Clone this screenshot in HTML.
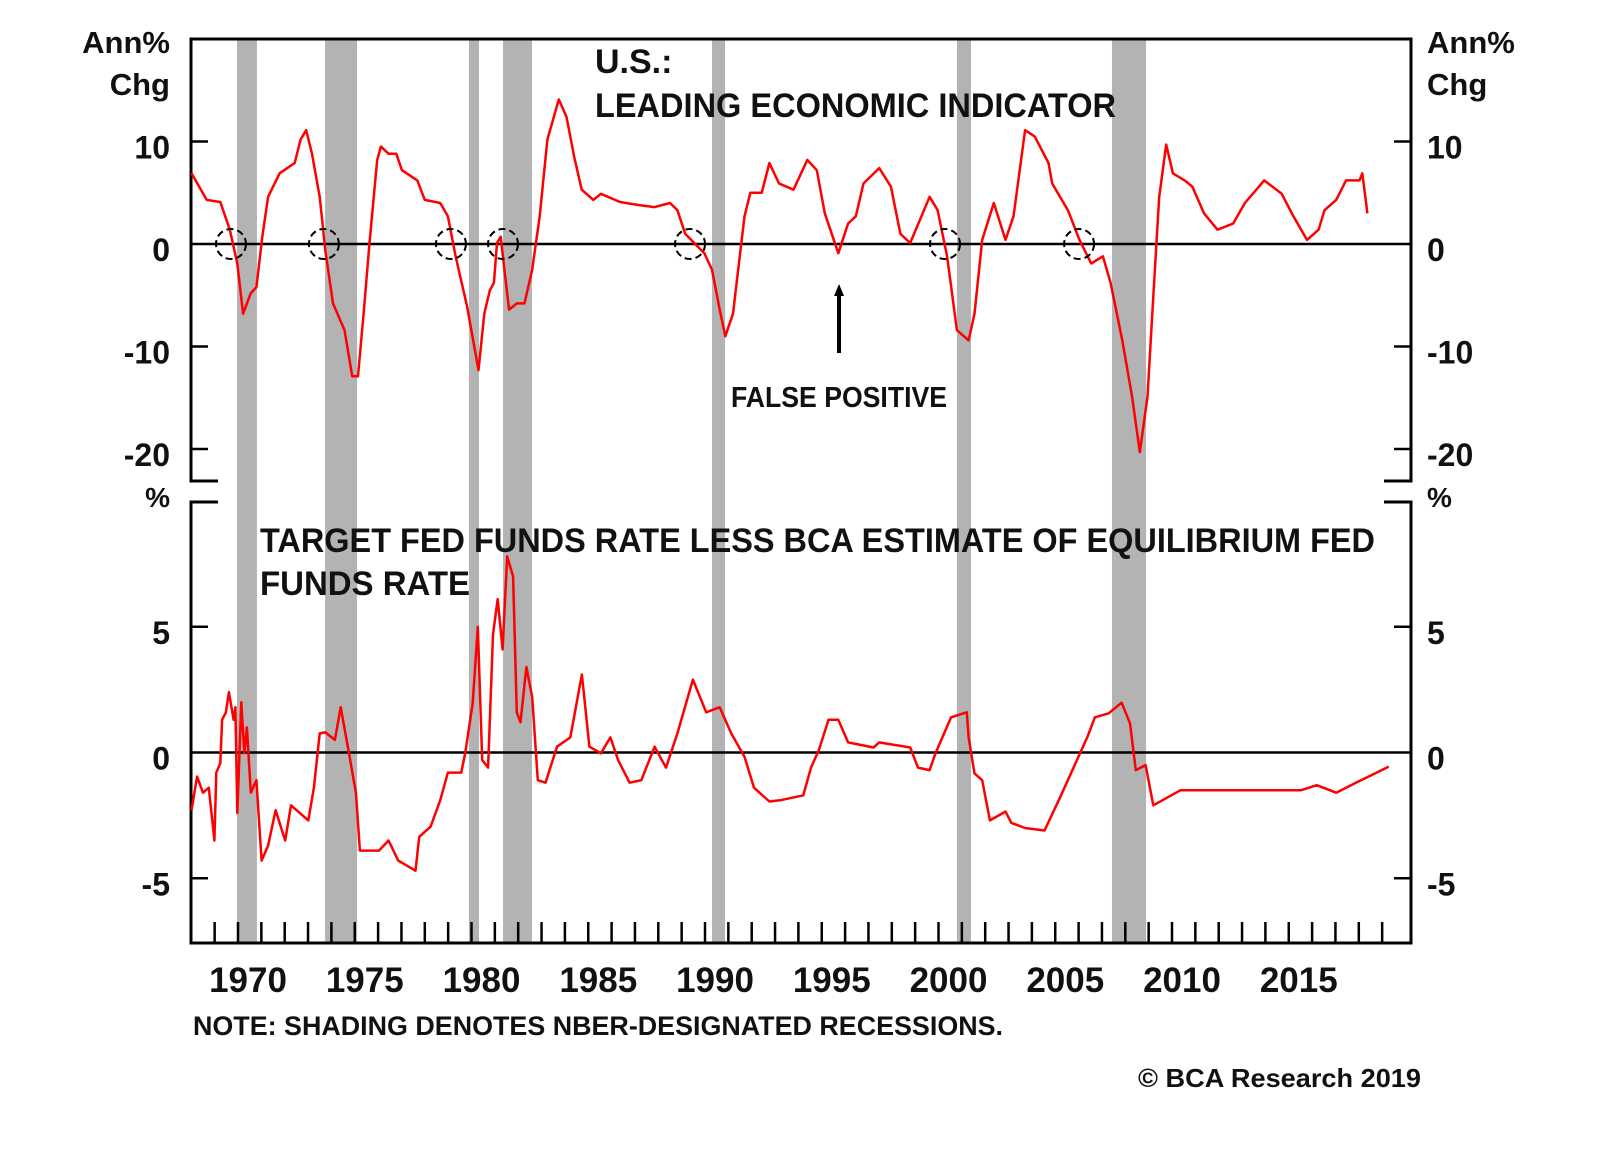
<!DOCTYPE html>
<html><head><meta charset="utf-8"><title>BCA chart</title>
<style>
html,body{margin:0;padding:0;background:#fff;}
svg{display:block;font-family:"Liberation Sans",Arial,sans-serif;font-weight:bold;}
</style></head>
<body>
<svg id="chart" width="1600" height="1152" viewBox="0 0 1600 1152" xmlns="http://www.w3.org/2000/svg">
<rect x="0" y="0" width="1600" height="1152" fill="#fff"/>
<g id="shades"></g>
<g id="axes"></g>
<g id="series"></g>
<g id="labels"></g>

<text x="170" y="53" font-size="31" text-anchor="end" fill="#111">Ann%</text>
<text x="170" y="95" font-size="31" text-anchor="end" fill="#111">Chg</text>
<text x="1427" y="53" font-size="31" fill="#111">Ann%</text>
<text x="1427" y="95" font-size="31" fill="#111">Chg</text>
<text x="170" y="507" font-size="28" text-anchor="end" fill="#111">%</text>
<text x="1427" y="507" font-size="28" fill="#111">%</text>

<text x="595" y="73" font-size="34" fill="#111">U.S.:</text>
<text x="595" y="117" font-size="34" fill="#111" textLength="521" lengthAdjust="spacingAndGlyphs">LEADING ECONOMIC INDICATOR</text>
<text x="260" y="552" font-size="34" fill="#111" textLength="1115" lengthAdjust="spacingAndGlyphs">TARGET FED FUNDS RATE LESS BCA ESTIMATE OF EQUILIBRIUM FED</text>
<text x="260" y="595" font-size="34" fill="#111" textLength="210" lengthAdjust="spacingAndGlyphs">FUNDS RATE</text>
<text x="731" y="407" font-size="29" fill="#111" textLength="216" lengthAdjust="spacingAndGlyphs">FALSE POSITIVE</text>
<text x="193" y="1035" font-size="27" fill="#111" textLength="810" lengthAdjust="spacingAndGlyphs">NOTE: SHADING DENOTES NBER-DESIGNATED RECESSIONS.</text>
<text x="1138" y="1087" font-size="26" fill="#111" textLength="283" lengthAdjust="spacingAndGlyphs">© BCA Research 2019</text>

<script>
const recessionStarts = [1969.96, 1973.73, 1979.89, 1981.35, 1990.30, 2000.79, 2007.43];
const recessionEnds   = [1970.81, 1975.10, 1980.32, 1982.59, 1990.86, 2001.39, 2008.89];
const topTicks = [10, 0, -10, -20];
const topTickLabels = ["10", "0", "-10", "-20"];
const bottomTicks = [5, 0, -5];
const bottomTickLabels = ["5", "0", "-5"];
const yearLabels = [1970, 1975, 1980, 1985, 1990, 1995, 2000, 2005, 2010, 2015];
const signalYears = [1969.7, 1973.68, 1979.12, 1981.35, 1989.36, 2000.28, 2006.02];
const falsePositiveYear = 1995.74;

const leiYears = [1968.01,1968.66,1969.24,1969.65,1969.97,1970.22,1970.55,1970.79,1971.04,1971.29,1971.78,1972.43,1972.68,1972.92,1973.17,1973.5,1973.74,1974.07,1974.56,1974.89,1975.14,1975.38,1975.63,1975.96,1976.12,1976.45,1976.78,1977.02,1977.68,1978.0,1978.66,1978.99,1979.32,1979.81,1980.3,1980.55,1980.79,1980.96,1981.09,1981.25,1981.41,1981.61,1981.94,1982.27,1982.6,1982.92,1983.25,1983.74,1984.07,1984.4,1984.72,1985.22,1985.54,1986.36,1987.18,1987.84,1988.5,1988.82,1989.15,1989.97,1990.3,1990.63,1990.87,1991.2,1991.45,1991.69,1991.94,1992.43,1992.76,1993.17,1993.79,1994.38,1994.79,1995.13,1995.71,1996.13,1996.46,1996.79,1997.46,1997.96,1998.37,1998.79,1999.62,1999.96,2000.37,2000.79,2001.29,2001.54,2001.87,2002.37,2002.87,2003.21,2003.71,2004.12,2004.71,2004.87,2005.54,2006.04,2006.54,2007.04,2007.37,2007.87,2008.29,2008.62,2008.95,2009.2,2009.45,2009.75,2010.04,2010.54,2010.87,2011.37,2011.95,2012.62,2013.12,2013.95,2014.7,2015.2,2015.78,2016.28,2016.53,2017.03,2017.45,2018.03,2018.15,2018.37];
const leiValues = [6.9,4.3,4.1,1.4,-1.9,-6.8,-4.8,-4.2,0.7,4.6,6.9,7.9,10.2,11.1,8.8,4.6,-0.6,-5.8,-8.4,-12.9,-12.9,-6.8,0.1,8.2,9.5,8.8,8.8,7.2,6.2,4.3,4.0,2.7,-1.2,-6.1,-12.3,-6.8,-4.5,-3.8,0.1,0.7,-2.5,-6.4,-5.8,-5.8,-2.5,2.7,10.2,14.1,12.4,8.5,5.3,4.3,4.9,4.1,3.8,3.6,4.0,3.3,1.0,-0.9,-2.5,-6.4,-9.0,-6.8,-1.9,2.7,5.0,5.0,7.9,5.9,5.3,8.2,7.2,3.0,-0.9,2.0,2.7,5.9,7.4,5.6,1.0,0.1,4.6,3.3,-1.2,-8.4,-9.4,-6.8,0.4,4.0,0.4,2.7,11.1,10.5,7.9,5.9,3.3,0.4,-1.9,-1.2,-3.8,-9.4,-14.9,-20.3,-14.9,-5.1,4.6,9.7,6.9,6.2,5.6,3.0,1.4,2.0,4.0,6.2,4.9,2.7,0.4,1.4,3.3,4.3,6.2,6.2,6.9,3.0];

const ffYears = [1968.01,1968.25,1968.5,1968.75,1968.99,1969.07,1969.24,1969.32,1969.48,1969.61,1969.81,1969.89,1969.97,1970.14,1970.27,1970.38,1970.55,1970.79,1971.01,1971.29,1971.61,1972.02,1972.27,1973.01,1973.25,1973.5,1973.74,1974.15,1974.4,1974.73,1975.05,1975.22,1976.04,1976.45,1976.86,1977.6,1977.76,1978.25,1978.66,1978.99,1979.56,1979.73,1980.05,1980.27,1980.46,1980.71,1980.92,1981.12,1981.33,1981.53,1981.78,1981.94,1982.1,1982.35,1982.6,1982.84,1983.17,1983.66,1984.23,1984.73,1985.05,1985.54,1985.95,1986.28,1986.77,1987.27,1987.84,1988.33,1988.82,1989.48,1990.05,1990.63,1991.12,1991.69,1992.1,1992.76,1993.21,1994.21,1994.54,1994.88,1995.29,1995.71,1996.13,1997.21,1997.46,1998.79,1999.12,1999.62,1999.87,2000.54,2001.21,2001.29,2001.54,2001.87,2002.2,2002.87,2003.12,2003.71,2004.54,2005.2,2006.37,2006.7,2007.29,2007.84,2008.2,2008.45,2008.87,2009.2,2010.37,2013.7,2015.53,2016.2,2017.03,2017.87,2018.7,2019.28];
const ffValues = [-2.3,-0.96,-1.6,-1.4,-3.5,-0.8,-0.43,1.3,1.6,2.4,1.3,1.8,-2.4,2.0,-0.03,1.0,-1.6,-1.1,-4.3,-3.7,-2.3,-3.5,-2.1,-2.7,-1.4,0.76,0.8,0.5,1.8,0.1,-1.6,-3.9,-3.9,-3.5,-4.3,-4.7,-3.35,-2.95,-1.9,-0.8,-0.8,-0.03,1.96,5.0,-0.3,-0.6,4.7,6.1,4.1,7.8,7.0,1.6,1.2,3.4,2.2,-1.1,-1.2,0.23,0.6,3.1,0.23,-0.03,0.6,-0.3,-1.2,-1.1,0.23,-0.6,0.76,2.9,1.6,1.8,0.76,-0.17,-1.4,-1.95,-1.9,-1.7,-0.6,0.1,1.3,1.3,0.4,0.2,0.4,0.2,-0.6,-0.7,-0.03,1.4,1.6,0.6,-0.83,-1.1,-2.7,-2.35,-2.8,-3.0,-3.1,-1.8,0.6,1.4,1.56,1.98,1.16,-0.7,-0.5,-2.1,-1.5,-1.5,-1.5,-1.3,-1.6,-1.2,-0.83,-0.56];

const NS = "http://www.w3.org/2000/svg";
const X0 = 238, PXY = 23.35;
function xS(yr){ return X0 + (yr - 1970) * PXY; }
function yTop(v){ return 244 - v * 10.25; }
function yBot(v){ return 752.5 - v * 25.15; }
const L = 191, R = 1411, TOP = 39, TOPB = 481, BOTT = 502, BOT = 943;
const RLX = 1427;

function mk(tag, attrs, parent){
  const el = document.createElementNS(NS, tag);
  for (const k in attrs) el.setAttribute(k, attrs[k]);
  parent.appendChild(el);
  return el;
}
const gS = document.getElementById('shades');
const gA = document.getElementById('axes');
const gD = document.getElementById('series');
const gL = document.getElementById('labels');

for (let i = 0; i < recessionStarts.length; i++) {
  const r = mk('rect', {x: xS(recessionStarts[i]), y: TOP, width: xS(recessionEnds[i]) - xS(recessionStarts[i]), height: BOT - TOP, fill: '#b3b3b3'}, gS);
  
  
}

const stroke = {stroke: '#000', 'stroke-width': 3, fill: 'none'};
let p = mk('path', Object.assign({d: `M${L+27},${TOPB} H${L} V${TOP} H${R} V${TOPB} H${R-27}`}, stroke), gA);


p = mk('path', Object.assign({d: `M${L+27},${BOTT} H${L} V${BOT} H${R} V${BOTT} H${R-27}`}, stroke), gA);



let z = mk('line', {x1: L, x2: R, y1: yTop(0), y2: yTop(0), stroke: '#000', 'stroke-width': 2.5}, gA);


z = mk('line', {x1: L, x2: R, y1: yBot(0), y2: yBot(0), stroke: '#000', 'stroke-width': 2.5}, gA);



function yTicks(vals, labs, fy, prefix){
  for (let i = 0; i < vals.length; i++) {
    const y = fy(vals[i]);
    if (vals[i] !== 0) {
      const t1 = mk('line', {x1: L, x2: L + 17, y1: y, y2: y, stroke: '#000', 'stroke-width': 2.5}, gA);
      
      
      const t2 = mk('line', {x1: R - 17, x2: R, y1: y, y2: y, stroke: '#000', 'stroke-width': 2.5}, gA);
      
      
    }
    const a = mk('text', {x: 170, y: y + 17, 'font-size': 32, 'text-anchor': 'end', fill: '#111'}, gL);
    a.textContent = labs[i];
    
    
    const b = mk('text', {x: RLX, y: y + 17, 'font-size': 32, fill: '#111'}, gL);
    b.textContent = labs[i];
    
    
  }
}
yTicks(topTicks, topTickLabels, yTop, 'top-y');
yTicks(bottomTicks, bottomTickLabels, yBot, 'bottom-y');

for (let yr = 1969; yr <= 2019; yr++) {
  const t = mk('line', {x1: xS(yr), x2: xS(yr), y1: BOT - 21, y2: BOT, stroke: '#000', 'stroke-width': 2.5}, gA);
  
  
}
for (let i = 0; i < yearLabels.length; i++) {
  const t = mk('text', {x: xS(yearLabels[i] + 0.43), y: 992, 'font-size': 35, 'text-anchor': 'middle', fill: '#111'}, gL);
  t.textContent = String(yearLabels[i]);
  
  
}

function pathFrom(xs, vs, fy){
  let d = '';
  for (let i = 0; i < xs.length; i++) d += (i ? 'L' : 'M') + xS(xs[i]).toFixed(1) + ',' + fy(vs[i]).toFixed(1);
  return d;
}
const lei = mk('path', {d: pathFrom(leiYears, leiValues, yTop), stroke: '#f00', 'stroke-width': 2.5, fill: 'none', 'stroke-linejoin': 'round'}, gD);


const ff = mk('path', {d: pathFrom(ffYears, ffValues, yBot), stroke: '#f00', 'stroke-width': 2.5, fill: 'none', 'stroke-linejoin': 'round'}, gD);



for (let i = 0; i < signalYears.length; i++) {
  const c = mk('circle', {cx: xS(signalYears[i]), cy: yTop(0), r: 15, stroke: '#000', 'stroke-width': 2, fill: 'none', 'stroke-dasharray': '7 4'}, gD);
  
  
}

const ax = xS(falsePositiveYear);
const arrow = mk('line', {x1: ax, x2: ax, y1: 353, y2: 292, stroke: '#000', 'stroke-width': 4}, gD);


const head = mk('path', {d: `M${ax-5},${296} L${ax},${284} L${ax+5},${296} Z`, fill: '#000'}, gD);


</script>
</svg>
</body></html>
